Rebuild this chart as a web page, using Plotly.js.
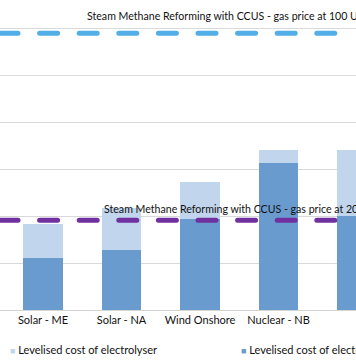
<!DOCTYPE html>
<html>
<head>
<meta charset="utf-8">
<script src="https://cdn.plot.ly/plotly-3.0.1.min.js"></script>
<style>html,body{margin:0;padding:0;background:#fff;overflow:hidden}#chart{width:356px;height:364px}</style>
</head>
<body>
<div id="chart"></div>
<script>
// ---- data ----
const categories = ["Solar - ME", "Solar - NA", "Wind Onshore", "Nuclear - NB", "Solar - EU"];
const electricityCost = [1.11, 1.28, 1.93, 3.13, 2.00];
const electrolyserCost = [0.73, 0.88, 0.79, 0.28, 1.41];
const seriesNames = ["Levelised cost of electrolyser", "Levelised cost of electricity"];
const smrLabels = ["Steam Methane Reforming with CCUS - gas price at 100 USD/MWh",
                   "Steam Methane Reforming with CCUS - gas price at 20 USD/MWh"];
const smrValues = [5.89, 1.91];

// ---- styles ----
const FONT = "Lato, 'Liberation Sans', sans-serif";
const colElectricity = "#6A9BCF";
const colElectrolyser = "#C1D6EC";
const lineColors = ["#52AEE6", "#7030A0"];

const traces = [
  {type: "bar", name: seriesNames[1], x: categories, y: electricityCost,
   marker: {color: colElectricity}, showlegend: false, hoverinfo: "skip"},
  {type: "bar", name: seriesNames[0], x: categories, y: electrolyserCost,
   marker: {color: colElectrolyser}, showlegend: false, hoverinfo: "skip"}
];

const shapes = smrValues.map((v, i) => ({
  type: "line", xref: "paper", yref: "y", x0: 0, x1: 1, y0: v, y1: v,
  line: {color: lineColors[i], width: 5, dash: "18px,21.6px"}, layer: "above"
}));

const sq = c => '<span style="color:' + c + ';font-size:9px">■</span> ';
const annotations = [
  {text: smrLabels[0], xref: "paper", yref: "y", x: 85/356, y: smrValues[0], yshift: 16.7,
   xanchor: "left", yanchor: "middle", showarrow: false, font: {family: FONT, size: 10.6, color: "#111"}},
  {text: smrLabels[1], xref: "paper", yref: "y", x: 101.5/356, y: smrValues[1], yshift: 11.7,
   xanchor: "left", yanchor: "middle", showarrow: false, font: {family: FONT, size: 10.6, color: "#111"}},
  {text: sq(colElectrolyser) + seriesNames[0], xref: "paper", yref: "paper",
   x: 8/356, y: -39/310, xanchor: "left", yanchor: "middle", showarrow: false,
   font: {family: FONT, size: 11, color: "#111"}},
  {text: sq(colElectricity) + seriesNames[1], xref: "paper", yref: "paper",
   x: 238.5/356, y: -39/310, xanchor: "left", yanchor: "middle", showarrow: false,
   font: {family: FONT, size: 11, color: "#111"}}
];

const layout = {
  width: 356, height: 364,
  margin: {l: 0, r: 0, t: 0, b: 54, pad: 0},
  paper_bgcolor: "#fff", plot_bgcolor: "#fff",
  barmode: "stack", bargap: 0.5,
  showlegend: false,
  font: {family: FONT, size: 11, color: "#111"},
  xaxis: {type: "category", range: [-0.548, 3.987], showgrid: false, zeroline: false,
          showline: true, linecolor: "#D4D4D4", linewidth: 1, ticks: "",
          tickfont: {family: FONT, size: 11, color: "#111"}, fixedrange: true},
  yaxis: {range: [0, 6.596], dtick: 1, showgrid: true, gridcolor: "#D9D9D9", gridwidth: 1,
          zeroline: false, showticklabels: false, ticks: "", fixedrange: true},
  shapes: shapes,
  annotations: annotations
};

Plotly.newPlot("chart", traces, layout, {displayModeBar: false, staticPlot: true}).then(gd => {
  gd.querySelectorAll(".shapelayer path").forEach(p => p.style.strokeLinecap = "round");
});
</script>
</body>
</html>
